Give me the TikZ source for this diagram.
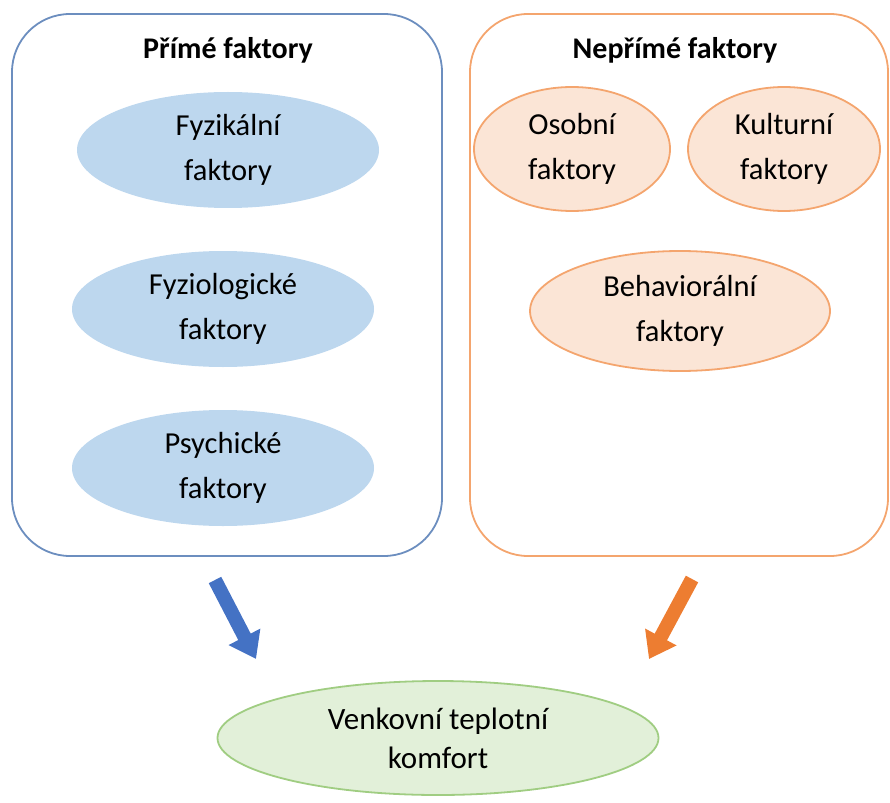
\documentclass[tikz,border=0pt]{standalone}
\usepackage{fontspec}
\setmainfont{Carlito}
\usepackage{xcolor}
\usetikzlibrary{positioning,arrows.meta,shapes.geometric}

\definecolor{panelblue}{RGB}{108,142,191}
\definecolor{panelorange}{RGB}{244,165,110}
\definecolor{blobblue}{RGB}{189,215,238}
\definecolor{blobpeach}{RGB}{251,229,214}
\definecolor{blobgreen}{RGB}{226,240,217}
\definecolor{linegreen}{RGB}{160,205,130}
\definecolor{arrowblue}{RGB}{68,114,196}
\definecolor{arroworange}{RGB}{237,125,49}

\begin{document}
\begin{tikzpicture}[x=1pt, y=-1pt,
        panel/.style={
            draw, line width=1.8pt, rounded corners=58pt,
            minimum height=542pt, inner sep=0pt
        },
        heading/.style={font=\bfseries\fontsize{30}{34}\selectfont},
        blob/.style={
            ellipse, inner sep=0pt, align=center,
            font=\fontsize{30.5}{45}\selectfont
        },
        direct/.style={blob, fill=blobblue, minimum width=302pt, minimum height=116pt},
        indirect/.style={blob, fill=blobpeach, draw=panelorange, line width=1.8pt, minimum height=124pt},
        bigarrow/.style={line width=14pt, -{Triangle[length=25pt, width=34pt]}}
    ]
        \useasboundingbox (0,0) rectangle (890,802);

        % direct factors
        \node[panel, draw=panelblue, minimum width=430pt] (direct) at (227,285) {};
        \node[heading] (directtitle) at (228,50) {Přímé faktory};
        \node[direct] (physical) at (228,150) {Fyzikální\\faktory};
        \node[direct] (physio) at (223,309) {Fyziologické\\faktory};
        \node[direct] (psych) at (223,468) {Psychické\\faktory};

        % indirect factors
        \node[panel, draw=panelorange, minimum width=418pt] (indirect) at (679,285) {};
        \node[heading] (indirecttitle) at (675,50) {Nepřímé faktory};
        \node[indirect, minimum width=196pt] (personal) at (572,149) {Osobní\\faktory};
        \node[indirect, minimum width=192pt] (cultural) at (784,149) {Kulturní\\faktory};
        \node[indirect, minimum width=300pt, minimum height=120pt] (behaviour) at (680,311) {Behaviorální\\faktory};

        % outcome
        \node[blob, fill=blobgreen, draw=linegreen, line width=1.8pt,
              minimum width=441pt, minimum height=114pt,
              font=\fontsize{31}{39}\selectfont] (comfort) at (438,738)
              {Venkovní teplotní\\komfort};

        \coordinate (bluetail) at (215,580);
        \coordinate (bluehead) at (256,659);
        \coordinate (orangetail) at (692,579);
        \coordinate (orangehead) at (649,659);
        \draw[bigarrow, arrowblue] (bluetail) -- (bluehead);
        \draw[bigarrow, arroworange] (orangetail) -- (orangehead);
    \end{tikzpicture}
\end{document}
